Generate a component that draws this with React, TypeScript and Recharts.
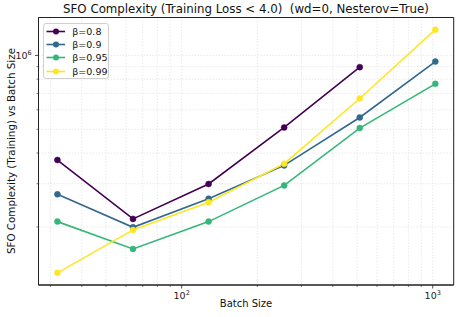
import React from 'react';
import { LineChart, Line, XAxis, YAxis, CartesianGrid, ReferenceArea } from 'recharts';

const batchSizes = [32, 64, 128, 256, 512, 1024];
const beta08 = [374700, 215600, 299200, 508500, 895400, null];
const beta09 = [271500, 199300, 260800, 356200, 558400, 943600];
const beta095 = [210200, 162700, 210200, 295300, 505600, 765600];
const beta099 = [130000, 194500, 251900, 361900, 667300, 1273000];

const seriesNames = ['β=0.8', 'β=0.9', 'β=0.95', 'β=0.99'];
const seriesKeys = ['b08', 'b09', 'b095', 'b099'];
const seriesColors = ['#440154', '#31688e', '#35b779', '#fde725'];

const xTicks = [30, 40, 50, 60, 70, 80, 90, 100, 200, 300, 400, 500, 600, 700, 800, 900, 1000];
const xMajor = [100, 1000];
const yTicks = [200000, 300000, 400000, 500000, 600000, 700000, 800000, 900000, 1000000];
const yMajor = [1000000];

const xDomain: [number, number] = [26.9, 1212];
const yDomain: [number, number] = [115980, 1427000];

const data = batchSizes.map((b, i) => ({
  batch: b,
  b08: beta08[i],
  b09: beta09[i],
  b095: beta095[i],
  b099: beta099[i],
}));

const FONT = '"DejaVu Sans", sans-serif';

const XTick = (props: any) => {
  const { x, y, payload } = props;
  const v = payload.value;
  const major = xMajor.includes(v);
  return (
    <g>
      <line x1={x} x2={x} y1={y} y2={y + (major ? 3.5 : 2)} stroke="#222" strokeWidth={major ? 0.8 : 0.6} />
      {major && (
        <text x={x} y={y + 14} textAnchor="middle" fontSize={9.5} fontFamily={FONT} fill="#222">
          10<tspan dy={-4} fontSize={6.5}>{Math.round(Math.log10(v))}</tspan>
        </text>
      )}
    </g>
  );
};

const YTick = (props: any) => {
  const { x, y, payload } = props;
  const v = payload.value;
  const major = yMajor.includes(v);
  return (
    <g>
      <line x1={x} x2={x - (major ? 3.5 : 2)} y1={y} y2={y} stroke="#222" strokeWidth={major ? 0.8 : 0.6} />
      {major && (
        <text x={x - 15} y={y + 3.5} textAnchor="middle" fontSize={9.5} fontFamily={FONT} fill="#222">
          10<tspan dy={-4} fontSize={6.5}>{Math.round(Math.log10(v))}</tspan>
        </text>
      )}
    </g>
  );
};

export default function App() {
  return (
    <div style={{ position: 'absolute', left: 0, top: 0, width: 459, height: 317, background: '#fff' }}>
      <LineChart
        width={459}
        height={317}
        data={data}
        margin={{ top: 17.5, right: 5.3, bottom: 0, left: 0 }}
      >
        <CartesianGrid stroke="#dcdcdc" strokeDasharray="1.5 1.5" strokeWidth={0.6} />
        <XAxis
          dataKey="batch"
          type="number"
          scale="log"
          domain={xDomain}
          ticks={xTicks}
          allowDataOverflow
          height={32}
          tickSize={0}
          tickMargin={0}
          tickLine={false}
          axisLine={{ stroke: '#222', strokeWidth: 1 }}
          tick={<XTick />}
          interval={0}
        />
        <YAxis
          type="number"
          scale="log"
          domain={yDomain}
          ticks={yTicks}
          allowDataOverflow
          width={38.5}
          tickSize={0}
          tickMargin={0}
          tickLine={false}
          axisLine={{ stroke: '#222', strokeWidth: 1 }}
          tick={<YTick />}
          interval={0}
        />
        {seriesKeys.map((k, i) => (
          <Line
            key={k}
            dataKey={k}
            name={seriesNames[i]}
            stroke={seriesColors[i]}
            strokeWidth={1.6}
            dot={{ r: 3, fill: seriesColors[i], stroke: seriesColors[i], strokeWidth: 0.5 }}
            isAnimationActive={false}
            connectNulls={false}
          />
        ))}
        <ReferenceArea
          x1={xDomain[0]}
          x2={xDomain[1]}
          y1={yDomain[0]}
          y2={yDomain[1]}
          fill="none"
          fillOpacity={0}
          stroke="#222"
          strokeWidth={1}
          ifOverflow="visible"
        />
      </LineChart>
      <div
        style={{
          position: 'absolute',
          left: 0,
          top: 1.5,
          width: 492,
          textAlign: 'center',
          fontFamily: FONT,
          fontSize: 11.8,
          color: '#111',
          whiteSpace: 'pre',
        }}
      >
        {'SFO Complexity (Training Loss < 4.0)  (wd=0, Nesterov=True)'}
      </div>
      <div
        style={{
          position: 'absolute',
          left: 196,
          width: 100,
          top: 298,
          textAlign: 'center',
          fontFamily: FONT,
          fontSize: 10,
          color: '#111',
        }}
      >
        Batch Size
      </div>
      <div
        style={{
          position: 'absolute',
          left: 11,
          top: 151,
          transform: 'translate(-50%, -50%) rotate(-90deg)',
          fontFamily: FONT,
          fontSize: 10.3,
          color: '#111',
          whiteSpace: 'nowrap',
        }}
      >
        SFO Complexity (Training) vs Batch Size
      </div>
      <div
        style={{
          position: 'absolute',
          left: 43.3,
          top: 22.7,
          width: 66,
          height: 56,
          border: '1px solid #d0d0d0',
          borderRadius: 3,
          background: 'rgba(255,255,255,0.85)',
          boxSizing: 'border-box',
          fontFamily: FONT,
          fontSize: 9.5,
          color: '#111',
        }}
      >
        {seriesNames.map((n, i) => (
          <div key={n} style={{ position: 'absolute', left: 0, top: 1 + i * 13.4, height: 13, width: 66 }}>
            <svg width={24} height={13} style={{ position: 'absolute', left: 2, top: 0 }}>
              <line x1={0.5} x2={19} y1={6.5} y2={6.5} stroke={seriesColors[i]} strokeWidth={1.6} />
              <circle cx={10} cy={6.5} r={3} fill={seriesColors[i]} />
            </svg>
            <span style={{ position: 'absolute', left: 28, top: 0, lineHeight: '13px' }}>{n}</span>
          </div>
        ))}
      </div>
    </div>
  );
}
